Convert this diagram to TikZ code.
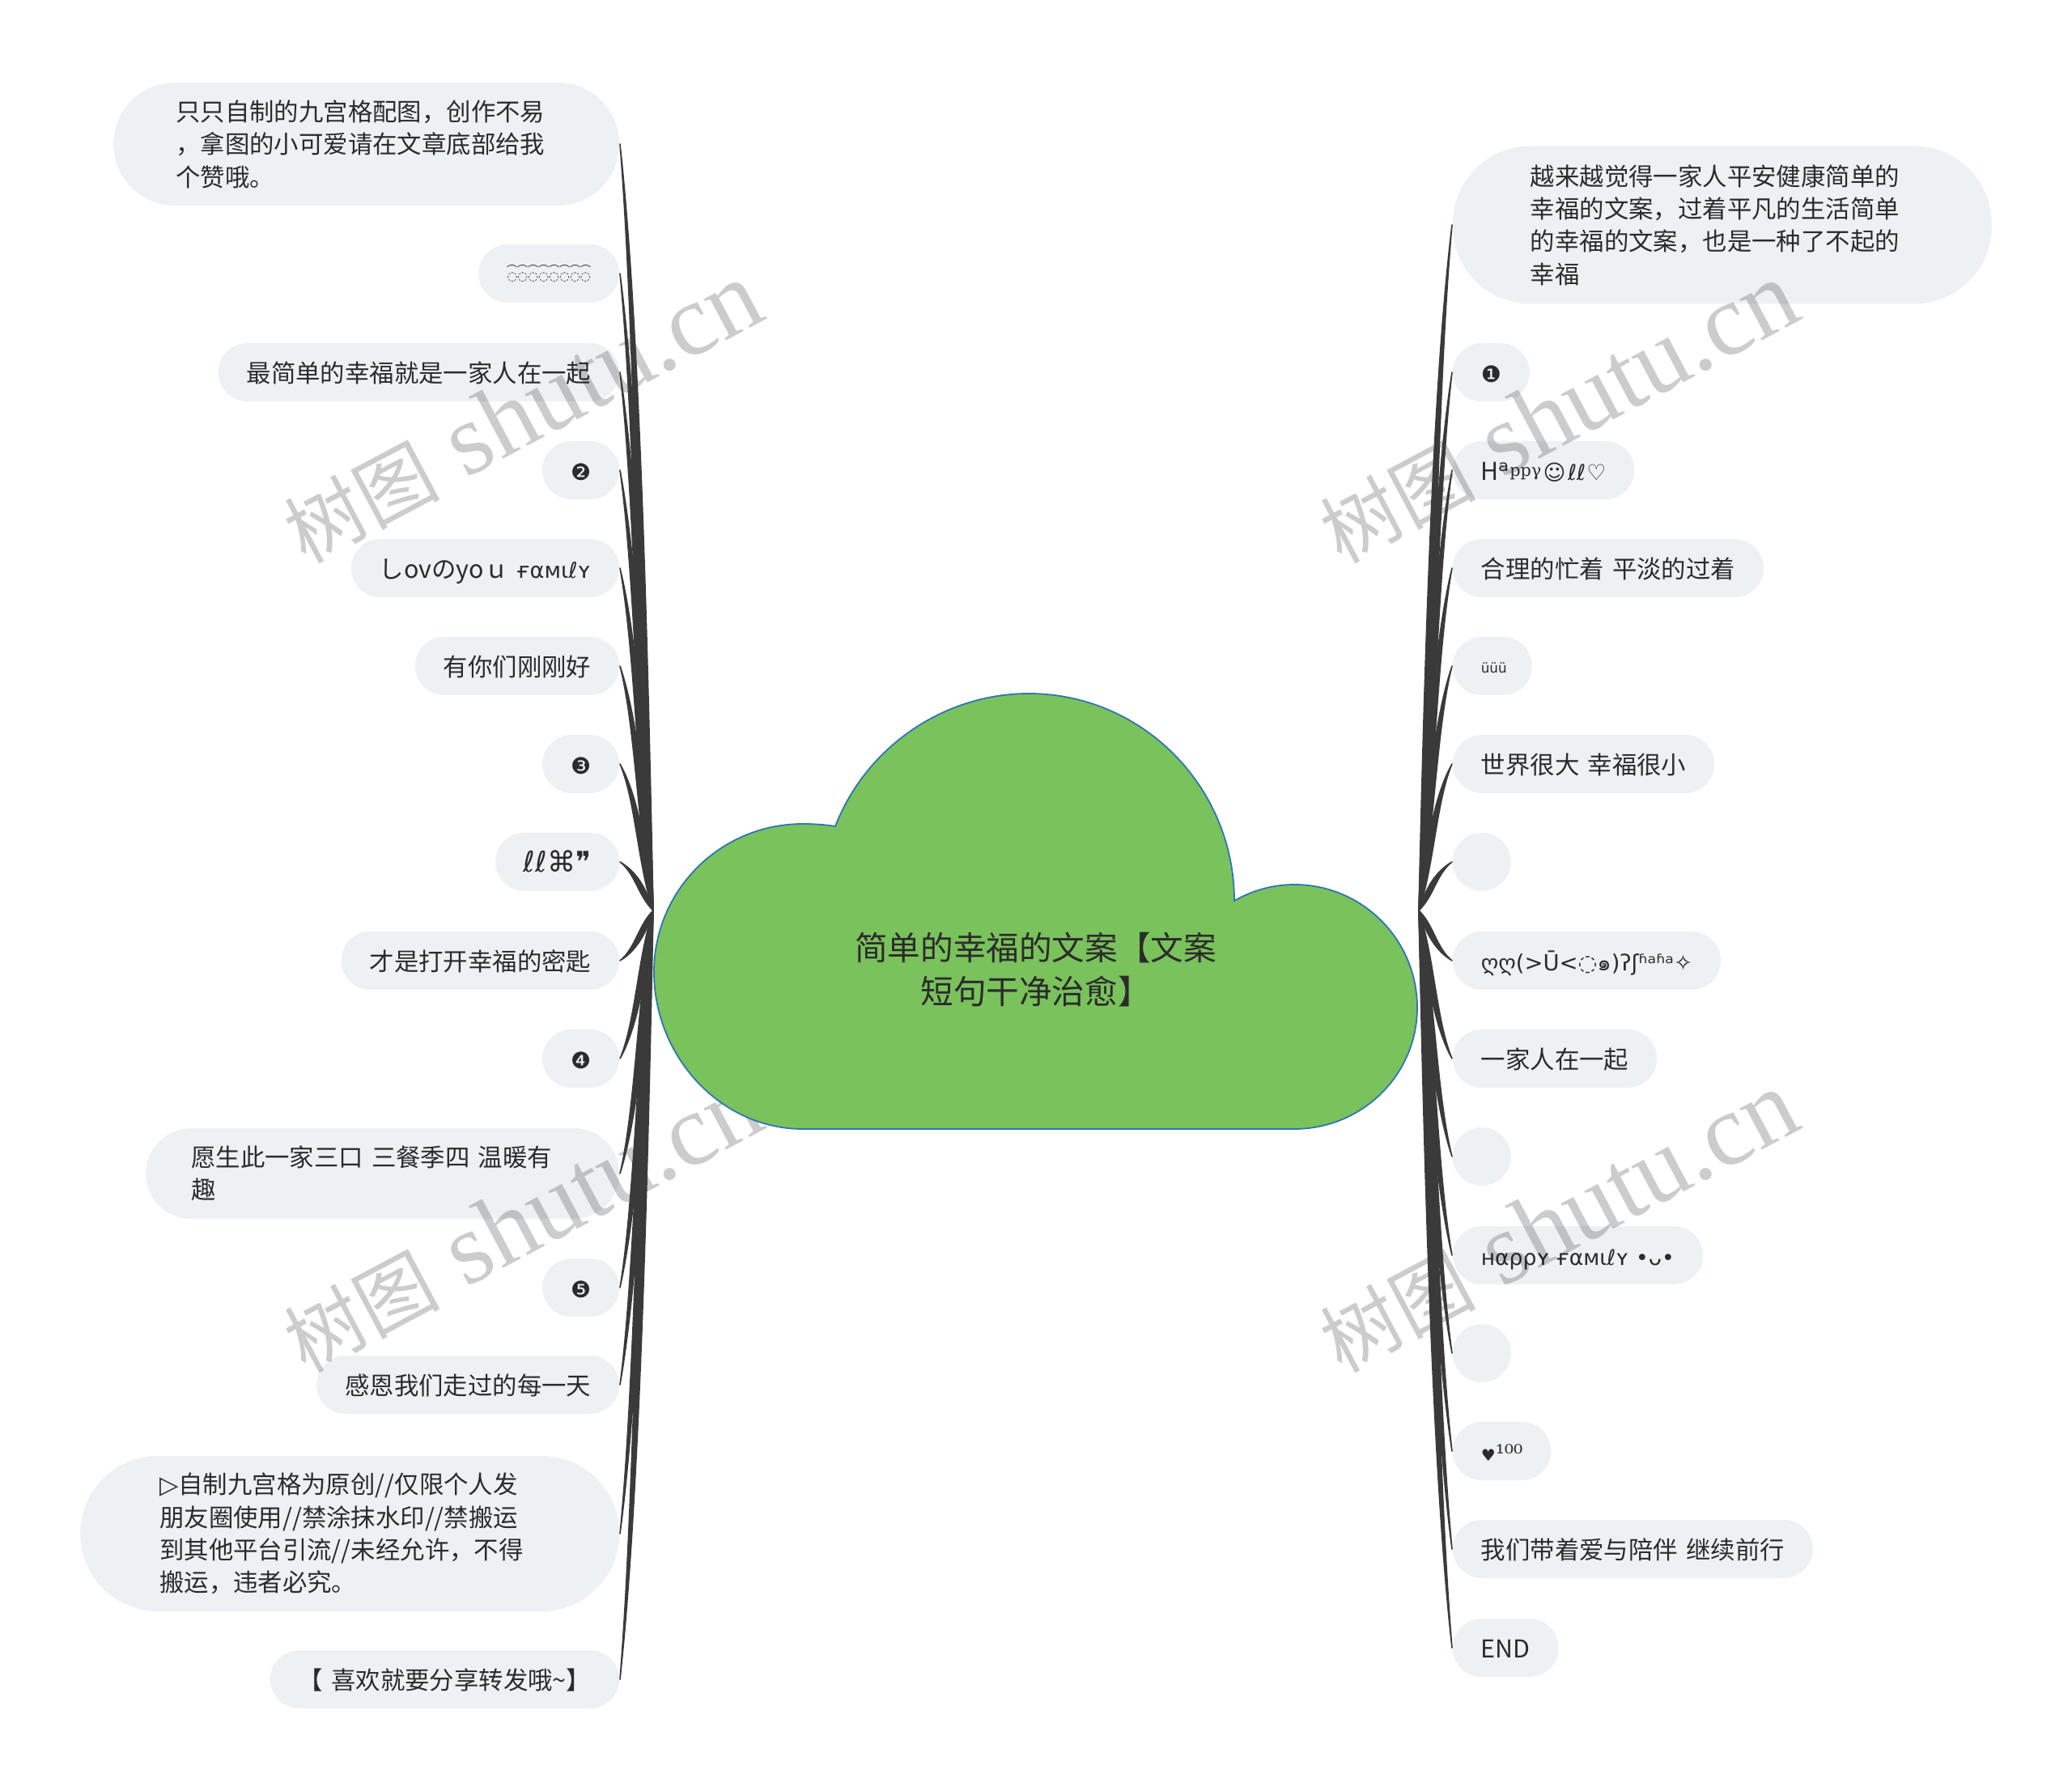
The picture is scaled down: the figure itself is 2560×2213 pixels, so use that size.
\documentclass[tikz,border=0pt]{standalone}
\usepackage{fontspec}
\setmainfont[WordSpace=1.5]{Noto Sans CJK SC}
\newfontfamily\symfont{DejaVu Sans}
\newfontfamily\symserif{DejaVu Serif}
\newfontfamily\wmfont{Liberation Serif}
\newfontfamily\thaifont[Script=Thai]{Loma}
\usepackage{tikz}
\usetikzlibrary{calc}
\definecolor{pillgray}{HTML}{EEF1F4}
\definecolor{cloudgreen}{HTML}{7AC25C}
\definecolor{cloudblue}{HTML}{2E75B6}
\definecolor{inkdark}{HTML}{2B2B2B}
\definecolor{twigdark}{HTML}{3A3A3A}
\tikzset{
	pill/.style={rectangle,fill=pillgray,text=inkdark,rounded corners=9pt,inner xsep=8.75pt,inner ysep=0pt,minimum height=18pt,minimum width=18pt,font=\fontsize{7.6}{10.1}\selectfont},
	pillL/.style={pill,anchor=east,text height=6.6pt,text depth=.5pt},
	pillR/.style={pill,anchor=west,text height=6.6pt,text depth=.5pt},
	blockL/.style={pill,anchor=east,align=left},
	blockR/.style={pill,anchor=west,align=left},
	twig/.style={fill=twigdark,draw=twigdark,line width=.4pt,line join=round}
}
\newcommand{\branch}[2]{%
	\path[twig] let \p1=(#1), \p2=(#2), \n1={\x2-\x1}, \n2={\y2-\y1} in
		(\p1) .. controls ({\x1+.3*\n1-1.6pt},{\y1+.3*\n2}) and ({\x1+.45*\n1-.8pt},{\y1+.75*\n2}) .. (\p2)
		.. controls ({\x1+.45*\n1+.8pt},{\y1+.75*\n2}) and ({\x1+.3*\n1+1.6pt},{\y1+.3*\n2}) .. (\p1) -- cycle;}
\newcommand{\numsign}[1]{{\symfont\fontsize{7}{8}\selectfont #1}}
\begin{document}
\begin{tikzpicture}[x=.25pt,y=-.25pt]
	\useasboundingbox (0,0) rectangle (2560,2213);
	\fill[white] (0,0) rectangle (2560,2213);
	% left side
	\node[blockL,rounded corners=19pt,inner xsep=19.25pt,text width=117.75pt,minimum height=38pt] (l1) at (766,178) {只只自制的九宫格配图，创作不易\\，拿图的小可爱请在文章底部给我\\个赞哦。};
	\node[pill,anchor=east] (l2) at (766,338) {\shortstack{\fontsize{3.25}{3.6}\selectfont ⌒⌒⌒⌒⌒⌒⌒⌒\\[-3.2pt]{\symfont\fontsize{3.7}{4}\selectfont ◌◌◌◌◌◌◌◌}}};
	\node[pillL] (l3) at (766,460) {最简单的幸福就是一家人在一起};
	\node[pillL] (l4) at (766,581) {\numsign{❷}};
	\node[pillL] (l5) at (766,702) {しovのyoｕ {\symfont\fontsize{6.8}{8}\selectfont ғαмιℓʏ}};
	\node[pillL] (l6) at (766,823) {有你们刚刚好};
	\node[pillL] (l7) at (766,944) {\numsign{❸}};
	\node[pillL] (l8) at (766,1065) {\symfont\fontsize{8.8}{10}\selectfont ℓℓ⌘❞};
	\node[pillL] (l9) at (766,1187) {才是打开幸福的密匙};
	\node[pillL] (l10) at (766,1308) {\numsign{❹}};
	\node[blockL,rounded corners=14pt,inner xsep=14pt,text width=118.25pt,minimum height=28pt] (l11) at (766,1450) {愿生此一家三口 三餐季四 温暖有\\趣};
	\node[pillL] (l12) at (766,1591) {\numsign{❺}};
	\node[pillL] (l13) at (766,1711) {感恩我们走过的每一天};
	\node[blockL,rounded corners=24pt,inner xsep=24.5pt,text width=117.5pt,minimum height=48pt] (l14) at (766,1895) {{\symfont ▷}自制九宫格为原创//仅限个人发\\朋友圈使用//禁涂抹水印//禁搬运\\到其他平台引流//未经允许，不得\\搬运，违者必究。};
	\node[pillL] (l15) at (766,2075) {【 喜欢就要分享转发哦\textasciitilde】};
	% right side
	\node[blockR,rounded corners=24pt,inner xsep=24pt,text width=118.5pt,minimum height=48.75pt] (r1) at (1794,278) {越来越觉得一家人平安健康简单的\\幸福的文案，过着平凡的生活简单\\的幸福的文案，也是一种了不起的\\幸福};
	\node[pillR] (r2) at (1794,460) {\numsign{❶}};
	\node[pillR] (r3) at (1794,581) {H{\symfont\fontsize{8.5}{9}\selectfont ᵃ}\raisebox{1.2pt}{\symserif\fontsize{5.2}{6}\selectfont ppγ}\kern.6pt{\symfont\fontsize{6.7}{8}\selectfont ☺\kern.6pt ℓℓ\kern.3pt ♡}};
	\node[pillR] (r4) at (1794,702) {合理的忙着 平淡的过着};
	\node[pillR] (r5) at (1794,823) {\raisebox{1pt}{\symfont\fontsize{4.2}{5}\selectfont üüü}\kern-1pt};
	\node[pillR] (r6) at (1794,944) {世界很大 幸福很小};
	\node[pillR] (r7) at (1794,1065) {};
	\node[pillR] (r8) at (1794,1187) {\symfont\fontsize{6.85}{8}\selectfont ღღ(>Ū<◌{\thaifont ๑})ʔʃʱᵃʱᵃ✧};
	\node[pillR] (r9) at (1794,1308) {一家人在一起};
	\node[pillR] (r10) at (1794,1429) {};
	\node[pillR] (r11) at (1794,1551) {\symfont\fontsize{6.65}{8}\selectfont нαρρʏ ғαмιℓʏ •ᴗ•};
	\node[pillR] (r12) at (1794,1672) {};
	\node[pillR] (r13) at (1794,1793) {{\symfont\fontsize{5}{8}\selectfont ♥}{\symserif\fontsize{7}{8}\selectfont ¹⁰⁰}};
	\node[pillR] (r14) at (1794,1914) {我们带着爱与陪伴 继续前行};
	\node[pillR] (r15) at (1794,2036) {END};
	% watermark
	\foreach \wx/\wy/\k in {645/510/1,1925/510/2,645/1510/3,1925/1510/4}
		\node[rotate=28,text=black,text opacity=.2,font=\fontsize{24}{34}\selectfont] (mark\k) at (\wx,\wy) {树图 {\wmfont\fontsize{31.5}{34}\selectfont shutu.cn}};
	% cloud
	\draw[fill=cloudgreen,draw=cloudblue,line width=.45pt] (992,1395) .. controls (890,1395) and (808,1305) .. (808,1201)
		.. controls (808,1100) and (890,1018) .. (992,1018) .. controls (1006,1018) and (1020,1019) .. (1032,1021)
		.. controls (1070,923) and (1166,857) .. (1271,857) .. controls (1411,857) and (1525,972) .. (1525,1113)
		.. controls (1548,1100) and (1573,1093) .. (1599,1093) .. controls (1683,1093) and (1751,1161) .. (1751,1245)
		.. controls (1751,1328) and (1683,1395) .. (1599,1395) -- cycle;
	\node[text=inkdark,align=center,inner sep=0pt,font=\fontsize{10.15}{13.5}\selectfont] (root) at (1279.5,1198) {简单的幸福的文案【文案\\短句干净治愈】};
	\coordinate (hubL) at (807,1125);
	\coordinate (hubR) at (1753,1125);
	% branches
	\foreach \k in {1,...,15} {
		\branch{hubL}{l\k.east}
		\branch{hubR}{r\k.west}
	}
\end{tikzpicture}
\end{document}
